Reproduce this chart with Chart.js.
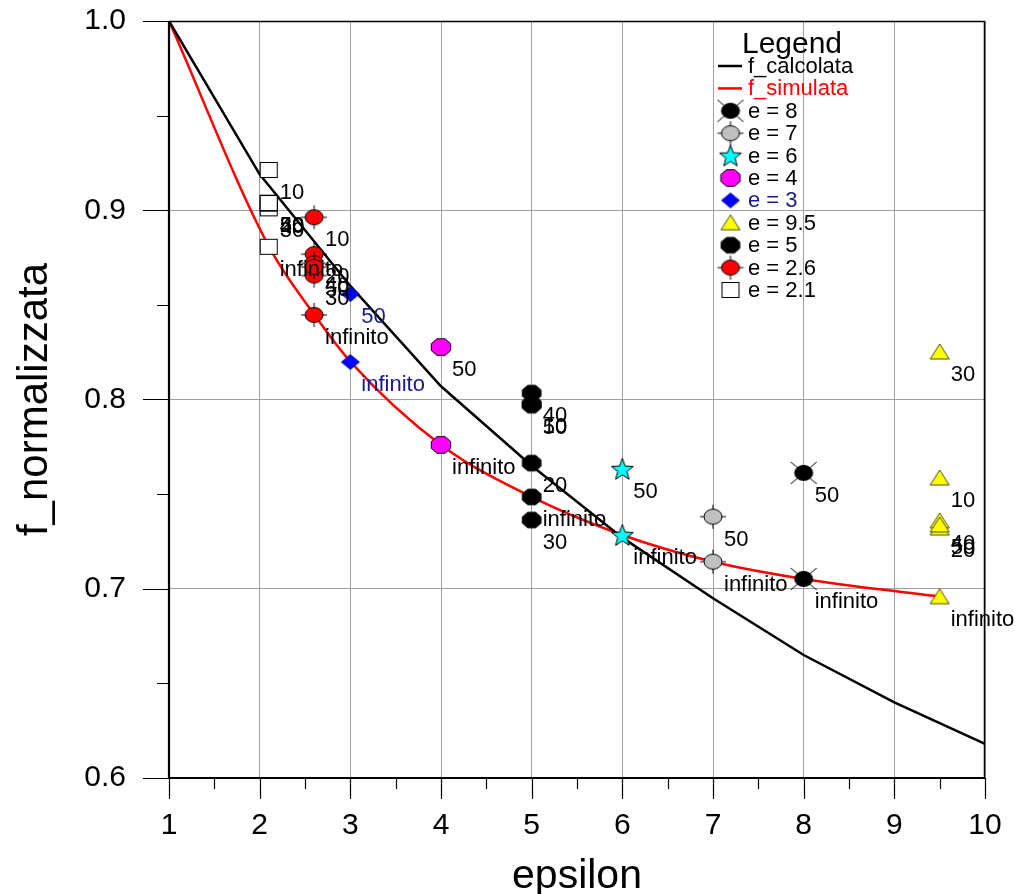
<!DOCTYPE html>
<html><head><meta charset="utf-8">
<script src="https://cdn.jsdelivr.net/npm/chart.js@4.4.1/dist/chart.umd.min.js"></script>
<style>html,body{margin:0;padding:0;background:#fff}#wrap{width:1015px;height:894px;position:relative}</style>
</head><body><div id="wrap"><canvas id="c" width="1015" height="894"></canvas></div>
<script>
// ---------- data ----------
const xCalc = [1, 2, 3, 4, 5, 6, 7, 8, 9, 10];
const fCalcolata = [1.0, 0.919, 0.860, 0.807, 0.765, 0.727, 0.695, 0.665, 0.640, 0.618];
const xSim = [1, 2.1, 2.6, 3, 4, 5, 6, 7, 8, 9.5];
const fSimulata = [1.0, 0.881, 0.845, 0.820, 0.776, 0.7485, 0.7284, 0.7143, 0.7052, 0.6958];

const e8Values = [0.7612, 0.7052];  const e8Labels = ['50', 'infinito'];
const e7Values = [0.7381, 0.7143];  const e7Labels = ['50', 'infinito'];
const e6Values = [0.7633, 0.7284];  const e6Labels = ['50', 'infinito'];
const e4Values = [0.8277, 0.7760];  const e4Labels = ['50', 'infinito'];
const e3Values = [0.8557, 0.8198];  const e3Labels = ['50', 'infinito'];
const e95Values = [0.7585, 0.7321, 0.8251, 0.7358, 0.7337, 0.6958];
const e95Labels = ['10', '20', '30', '40', '50', 'infinito'];
const e5Values = [0.7976, 0.7664, 0.7363, 0.8034, 0.7970, 0.7485];
const e5Labels = ['10', '20', '30', '40', '50', 'infinito'];
const e26Values = [0.8963, 0.8768, 0.8655, 0.8720, 0.8700, 0.8447];
const e26Labels = ['10', '20', '30', '40', '50', 'infinito'];
const e21Values = [0.9213, 0.9040, 0.9010, 0.9035, 0.9038, 0.8807];
const e21Labels = ['10', '20', '30', '40', '50', 'infinito'];

const xTicks = [1, 2, 3, 4, 5, 6, 7, 8, 9, 10];
const yTicks = [0.6, 0.7, 0.8, 0.9, 1.0];

// ---------- marker images ----------
function mk(w, h, draw) {
  const c = document.createElement('canvas'); c.width = w; c.height = h;
  const g = c.getContext('2d'); g.translate(w / 2, h / 2); draw(g); return c;
}
function ellipse(g, rx, ry, fill) {
  g.beginPath(); g.ellipse(0, 0, rx, ry, 0, 0, Math.PI * 2);
  g.fillStyle = fill; g.fill(); g.lineWidth = 1; g.strokeStyle = '#000'; g.stroke();
}
function octagon(g, rx, ry, fill) {
  g.beginPath();
  for (let k = 0; k < 8; k++) {
    const a = (22.5 + 45 * k) * Math.PI / 180;
    const px = rx * Math.cos(a), py = ry * Math.sin(a);
    k ? g.lineTo(px, py) : g.moveTo(px, py);
  }
  g.closePath(); g.fillStyle = fill; g.fill(); g.lineWidth = 1; g.strokeStyle = '#000'; g.stroke();
}
function lines(g, segs) {
  g.beginPath(); g.lineWidth = 1; g.strokeStyle = '#000';
  segs.forEach(s => { g.moveTo(s[0], s[1]); g.lineTo(s[2], s[3]); }); g.stroke();
}
const mE8 = mk(28, 26, g => { lines(g, [[-13, -11, 13, 11], [-13, 11, 13, -11]]); ellipse(g, 9, 7.5, '#000'); });
const mE7 = mk(28, 26, g => { lines(g, [[-13, 0, 13, 0], [0, -12, 0, 12]]); ellipse(g, 9, 7.5, '#c0c0c0'); });
const mE6 = mk(26, 26, g => {
  g.beginPath();
  for (let k = 0; k < 10; k++) {
    const r = k % 2 ? 4.8 : 11.5, a = (-90 + 36 * k) * Math.PI / 180;
    k ? g.lineTo(r * Math.cos(a), r * Math.sin(a) + 1) : g.moveTo(r * Math.cos(a), r * Math.sin(a) + 1);
  }
  g.closePath(); g.fillStyle = '#00ffff'; g.fill(); g.lineWidth = 1; g.strokeStyle = '#000'; g.stroke();
});
const mE4 = mk(24, 22, g => octagon(g, 10.5, 9, '#ff00ff'));
const mE3 = mk(22, 18, g => {
  g.beginPath(); g.moveTo(0, -7.5); g.lineTo(9, 0); g.lineTo(0, 7.5); g.lineTo(-9, 0); g.closePath();
  g.fillStyle = '#0000ff'; g.fill(); g.lineWidth = 0.8; g.strokeStyle = '#00008b'; g.stroke();
});
const mE95 = mk(22, 20, g => {
  g.beginPath(); g.moveTo(0, -8); g.lineTo(9.5, 7); g.lineTo(-9.5, 7); g.closePath();
  g.fillStyle = '#ffff00'; g.fill(); g.lineWidth = 1; g.strokeStyle = '#4a4a1a'; g.stroke();
});
const mE5 = mk(24, 22, g => octagon(g, 10, 8.5, '#000'));
const mE26 = mk(28, 26, g => { lines(g, [[-13, 0, 13, 0], [0, -12, 0, 12]]); ellipse(g, 9, 7.5, '#ff0000'); });
const mE21 = mk(20, 18, g => {
  g.fillStyle = '#fff'; g.fillRect(-8.5, -7.5, 17, 15);
  g.lineWidth = 1; g.strokeStyle = '#000'; g.strokeRect(-8.5, -7.5, 17, 15);
});

const NAVY = '#1a1a8c';
function series(label, xv, values, labels, img, textColor) {
  return {
    label, data: values.map(y => ({ x: xv, y })), showLine: false,
    pointStyle: img, pointRadius: 6, order: 1,
    ptLabels: labels, textColor: textColor || '#000', legendImg: img
  };
}

const datasets = [
  { label: 'f_calcolata', data: xCalc.map((x, i) => ({ x, y: fCalcolata[i] })), showLine: true,
    borderColor: '#000', borderWidth: 2.5, pointRadius: 0, tension: 0, order: 10, legendLine: '#000', textColor: '#000' },
  { label: 'f_simulata', data: xSim.map((x, i) => ({ x, y: fSimulata[i] })), showLine: true,
    borderColor: '#ff0000', borderWidth: 2.5, pointRadius: 0, cubicInterpolationMode: 'monotone', order: 11, legendLine: '#ff0000', textColor: '#ff0000' },
  series('e = 8', 8, e8Values, e8Labels, mE8),
  series('e = 7', 7, e7Values, e7Labels, mE7),
  series('e = 6', 6, e6Values, e6Labels, mE6),
  series('e = 4', 4, e4Values, e4Labels, mE4),
  series('e = 3', 3, e3Values, e3Labels, mE3, NAVY),
  series('e = 9.5', 9.5, e95Values, e95Labels, mE95),
  series('e = 5', 5, e5Values, e5Labels, mE5),
  series('e = 2.6', 2.6, e26Values, e26Labels, mE26),
  series('e = 2.1', 2.1, e21Values, e21Labels, mE21)
];

const FONT = "'Liberation Sans', Arial, Helvetica, sans-serif";
Chart.defaults.font.family = FONT;
Chart.defaults.color = '#000';

const deco = {
  id: 'deco',
  afterDatasetsDraw(chart) {
    const ctx = chart.ctx;
    ctx.save();
    ctx.font = '22px ' + FONT; ctx.textAlign = 'left'; ctx.textBaseline = 'middle';
    chart.data.datasets.forEach((ds, di) => {
      if (!ds.ptLabels) return;
      const meta = chart.getDatasetMeta(di);
      ctx.fillStyle = ds.textColor;
      meta.data.forEach((pt, i) => ctx.fillText(ds.ptLabels[i], pt.x + 11, pt.y + 23));
    });
    ctx.restore();
  },
  afterDraw(chart) {
    const ctx = chart.ctx, a = chart.chartArea;
    const xs = chart.scales.x, ys = chart.scales.y;
    ctx.save();
    // ticks
    ctx.strokeStyle = '#000'; ctx.lineWidth = 1.2;
    ctx.beginPath();
    for (let v = 1; v <= 10.001; v += 0.5) {
      const px = Math.round(xs.getPixelForValue(v)) + 0.5;
      const major = Math.abs(v - Math.round(v)) < 1e-6;
      ctx.moveTo(px, a.bottom); ctx.lineTo(px, a.bottom + (major ? 21 : 11));
    }
    for (let k = 0; k <= 8; k++) {
      const v = 0.6 + k * 0.05;
      const py = Math.round(ys.getPixelForValue(v)) + 0.5;
      ctx.moveTo(a.left, py); ctx.lineTo(a.left - (k % 2 === 0 ? 26 : 12), py);
    }
    ctx.stroke();
    // box
    ctx.lineWidth = 1.5;
    ctx.beginPath();
    ctx.moveTo(a.left, a.top + 0.5); ctx.lineTo(a.right, a.top + 0.5);
    ctx.moveTo(a.right - 0.5, a.top); ctx.lineTo(a.right - 0.5, a.bottom);
    ctx.stroke();
    ctx.lineWidth = 2.2;
    ctx.beginPath();
    ctx.moveTo(a.left, a.top); ctx.lineTo(a.left, a.bottom); ctx.lineTo(a.right, a.bottom);
    ctx.stroke();
    // legend
    ctx.fillStyle = '#000';
    ctx.font = '30px ' + FONT; ctx.textAlign = 'center'; ctx.textBaseline = 'alphabetic';
    ctx.fillText('Legend', 792, 53);
    ctx.font = '22px ' + FONT; ctx.textAlign = 'left'; ctx.textBaseline = 'middle';
    chart.data.datasets.forEach((ds, i) => {
      const cy = 66 + i * 22.4;
      if (ds.legendLine) {
        ctx.strokeStyle = ds.legendLine; ctx.lineWidth = 2.5;
        ctx.beginPath(); ctx.moveTo(718, cy); ctx.lineTo(742, cy); ctx.stroke();
      } else {
        const img = ds.legendImg;
        ctx.drawImage(img, 730.5 - img.width / 2, cy - img.height / 2);
      }
      ctx.fillStyle = ds.textColor;
      ctx.fillText(ds.label, 748, cy + 1);
    });
    ctx.restore();
  }
};

new Chart(document.getElementById('c'), {
  type: 'scatter',
  data: { datasets },
  options: {
    responsive: false, animation: false,
    layout: { padding: { top: 21, right: 30, left: 0, bottom: 0 } },
    plugins: { legend: { display: false }, tooltip: { enabled: false } },
    scales: {
      x: {
        type: 'linear', min: 1, max: 10,
        afterBuildTicks: s => { s.ticks = xTicks.map(v => ({ value: v })); },
        afterFit: s => { s.height = 116; },
        grid: { color: '#a0a0a0', lineWidth: 1, drawTicks: true, tickLength: 30, tickColor: 'rgba(0,0,0,0)' },
        border: { display: false },
        ticks: { font: { size: 30 }, color: '#000', padding: 0, maxRotation: 0, autoSkip: false,
          callback: v => String(v) },
        title: { display: true, text: 'epsilon', font: { size: 41, lineHeight: 0.85 }, color: '#000', padding: { top: 0, bottom: 0 } }
      },
      y: {
        type: 'linear', min: 0.6, max: 1.0,
        afterBuildTicks: s => { s.ticks = yTicks.map(v => ({ value: v })); },
        afterFit: s => { s.width = 169; },
        grid: { color: '#a0a0a0', lineWidth: 1, drawTicks: true, tickLength: 43, tickColor: 'rgba(0,0,0,0)' },
        border: { display: false },
        ticks: { font: { size: 30 }, color: '#000', padding: 0, autoSkip: false,
          callback: v => Number(v).toFixed(1) },
        title: { display: true, text: 'f_normalizzata', font: { size: 42 }, color: '#000', padding: { top: 10, bottom: 0 } }
      }
    }
  },
  plugins: [deco]
});
</script>
</body></html>
